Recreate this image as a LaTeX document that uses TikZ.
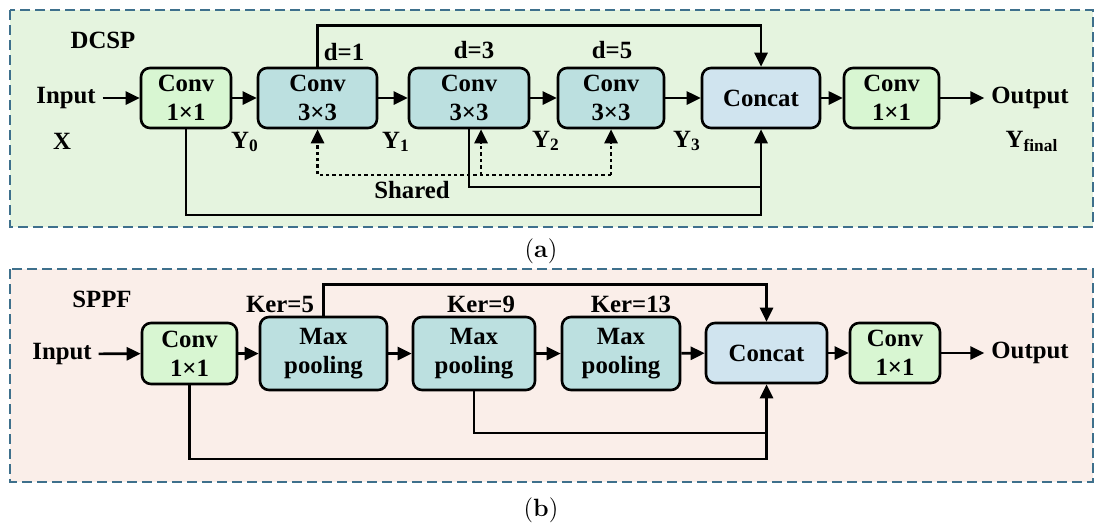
\documentclass[tikz,border=0pt]{standalone}
\usepackage{fontspec}
\newfontfamily\tnr{Liberation Serif}
\usepackage{tikz}
\usetikzlibrary{arrows.meta}
\usepackage{xcolor}
\definecolor{framea}{RGB}{229,244,223}
\definecolor{frameb}{RGB}{250,238,233}
\definecolor{frameline}{RGB}{62,112,140}
\definecolor{convgreen}{RGB}{216,246,210}
\definecolor{dconvteal}{RGB}{188,224,224}
\definecolor{concatblue}{RGB}{208,228,239}

\begin{document}
\begin{tikzpicture}[
    x=0.5pt, y=-0.5pt,
    every node/.style={font=\tnr\bfseries\fontsize{12.4}{14.5}\selectfont},
    panel/.style={draw=frameline, line width=0.8pt, dash pattern=on 5pt off 2.5pt},
    block/.style={draw=black, line width=1.3pt, rounded corners=4.5pt, align=center, inner sep=0pt, minimum height=30pt},
    conv/.style={block, fill=convgreen},
    dconv/.style={block, fill=dconvteal},
    concat/.style={block, fill=concatblue},
    link/.style={line width=1.35pt},
    edge/.style={link, -{Triangle[length=7pt,width=6.5pt]}},
    shared/.style={edge, dash pattern=on 1.7pt off 1.5pt},
    caption/.style={font=\rmfamily\fontsize{12.5}{14}\selectfont}
]
    \useasboundingbox (0,0) rectangle (1102,526);

    % Riquadri
    \draw[panel, fill=framea] (10,10) rectangle (1093,227);
    \draw[panel, fill=frameb] (10,269) rectangle (1093,482);

    % (a) DCSP
    \node (dcsp) at (103,40) {DCSP};
    \node (ina) at (66,98) {Input};
    \node (xa) at (62,141) {X};
    \node[conv, minimum width=45pt] (c1a) at (186,98) {Conv\\1×1};
    \node[dconv, minimum width=59.5pt] (d1a) at (317.5,98) {Conv\\3×3};
    \node[dconv, minimum width=60pt] (d3a) at (469,98) {Conv\\3×3};
    \node[dconv, minimum width=53pt] (d5a) at (611,98) {Conv\\3×3};
    \node[concat, minimum width=59pt] (cata) at (761,98) {Concat};
    \node[conv, minimum width=47.5pt] (c2a) at (891.5,98) {Conv\\1×1};
    \node (outa) at (1030,98) {Output};
    \node (yfa) at (1032,141) {Y\textsubscript{final}};

    \node (lda) at (344,52) {d=1};
    \node (ldb) at (474,50) {d=3};
    \node (ldc) at (612,50) {d=5};
    \node (y0) at (245,142) {Y\textsubscript{0}};
    \node (y1) at (396,142) {Y\textsubscript{1}};
    \node (y2) at (546,141) {Y\textsubscript{2}};
    \node (y3) at (687,141) {Y\textsubscript{3}};
    \node (shd) at (412,190) {Shared};

    \coordinate (sha) at (0,175);
    \coordinate (ya2) at (0,187);
    \coordinate (ya3) at (0,215);

    \draw[edge] (ina) -- (c1a);
    \draw[edge] (c1a) -- (d1a);
    \draw[edge] (d1a) -- (d3a);
    \draw[edge] (d3a) -- (d5a);
    \draw[edge] (d5a) -- (cata);
    \draw[edge] (cata) -- (c2a);
    \draw[edge] (c2a) -- (outa);

    \draw[edge] (d1a.north) -- ++(0,-41) -| (cata.north);
    \draw[link] (d3a.south) |- (cata.south |- ya2);
    \draw[edge] (c1a.south) |- (cata.south |- ya3) -- (cata.south);

    % Pesi condivisi
    \draw[shared] (d5a.south |- sha) -| (d1a.south);
    \draw[shared] ([xshift=6pt]d3a.south |- sha) -- ([xshift=6pt]d3a.south);
    \draw[shared] (d5a.south |- sha) -- (d5a.south);

    \node[caption] (capa) at (541,251) {(\textbf{a})};

    % (b) SPPF
    \node (sppf) at (102,299) {SPPF};
    \node (inb) at (62,354) {Input};
    \node[conv, minimum width=47.5pt, minimum height=30.5pt] (c1b) at (189.5,353.5) {Conv\\1×1};
    \node[dconv, minimum width=63.5pt, minimum height=36.5pt] (mp1) at (323.5,353.5) {Max\\pooling};
    \node[dconv, minimum width=61pt, minimum height=36.5pt] (mp2) at (474,353.5) {Max\\pooling};
    \node[dconv, minimum width=59pt, minimum height=36.5pt] (mp3) at (621,353.5) {Max\\pooling};
    \node[concat, minimum width=60.5pt] (catb) at (766.5,353) {Concat};
    \node[conv, minimum width=45pt] (c2b) at (895,353) {Conv\\1×1};
    \node (outb) at (1030,353) {Output};

    \node (lka) at (280,304) {Ker=5};
    \node (lkb) at (481,304) {Ker=9};
    \node (lkc) at (631,304) {Ker=13};

    \coordinate (yb2) at (0,433);
    \coordinate (yb3) at (0,459);

    \draw[edge] (inb) -- (c1b);
    \draw[edge] (c1b) -- (mp1);
    \draw[edge] (mp1) -- (mp2);
    \draw[edge] (mp2) -- (mp3);
    \draw[edge] (mp3) -- (catb);
    \draw[edge] (catb) -- (c2b);
    \draw[edge] (c2b) -- (outb);

    \draw[edge] (mp1.north) -- ++(0,-31) -| (catb.north);
    \draw[link] (mp2.south) |- (catb.south |- yb2);
    \draw[edge] (c1b.south) |- (catb.south |- yb3) -- (catb.south);

    \node[caption] (capb) at (541,510) {(\textbf{b})};

\end{tikzpicture}
\end{document}
